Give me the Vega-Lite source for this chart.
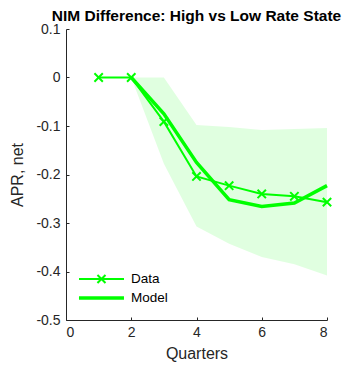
{
  "$schema": "https://vega.github.io/schema/vega-lite/v6.json",
  "width": 261,
  "height": 291,
  "autosize": {"type": "none"},
  "padding": {"left": 66, "top": 29, "right": 25, "bottom": 46},
  "title": {"text": "NIM Difference: High vs Low Rate State", "font": "Liberation Sans", "fontSize": 15.5, "fontWeight": "bold", "color": "#000000", "anchor": "middle", "frame": "group", "offset": 7, "dy": 9},
  "config": {
    "view": {"stroke": null},
    "axis": {
      "grid": false,
      "domainColor": "#262626",
      "tickColor": "#262626",
      "tickSize": -3,
      "labelFont": "Liberation Sans",
      "labelFontSize": 14,
      "labelColor": "#262626",
      "titleFont": "Liberation Sans",
      "titleFontSize": 16,
      "titleFontWeight": "normal",
      "titleColor": "#262626"
    }
  },
  "layer": [
    {
      "data": {"values": [
        {"q": 2, "lo": 0, "hi": 0},
        {"q": 3, "lo": -0.178, "hi": 0},
        {"q": 4, "lo": -0.307, "hi": -0.098},
        {"q": 5, "lo": -0.343, "hi": -0.102},
        {"q": 6, "lo": -0.370, "hi": -0.108},
        {"q": 7, "lo": -0.385, "hi": -0.106},
        {"q": 8, "lo": -0.408, "hi": -0.104}
      ]},
      "mark": {"type": "area", "color": "#00ff00", "opacity": 0.12},
      "encoding": {
        "x": {"field": "q", "type": "quantitative", "scale": {"domain": [0, 8], "nice": false}, "axis": {"values": [0, 2, 4, 6, 8], "title": "Quarters", "labelPadding": 8, "titlePadding": 6}},
        "y": {"field": "lo", "type": "quantitative", "scale": {"domain": [-0.5, 0.1], "nice": false, "zero": false}, "axis": {"values": [0.1, 0, -0.1, -0.2, -0.3, -0.4, -0.5], "title": "APR, net", "labelPadding": 9, "titlePadding": 10, "labelExpr": "replace(format(datum.value, '.1~f'), '\u2212', '-')"}},
        "y2": {"field": "hi"}
      }
    },
    {
      "data": {"values": [
        {"q": 1, "v": 0, "series": "Data"},
        {"q": 2, "v": 0, "series": "Data"},
        {"q": 3, "v": -0.091, "series": "Data"},
        {"q": 4, "v": -0.204, "series": "Data"},
        {"q": 5, "v": -0.223, "series": "Data"},
        {"q": 6, "v": -0.240, "series": "Data"},
        {"q": 7, "v": -0.245, "series": "Data"},
        {"q": 8, "v": -0.257, "series": "Data"},
        {"q": 2, "v": 0, "series": "Model"},
        {"q": 3, "v": -0.075, "series": "Model"},
        {"q": 4, "v": -0.175, "series": "Model"},
        {"q": 5, "v": -0.252, "series": "Model"},
        {"q": 6, "v": -0.266, "series": "Model"},
        {"q": 7, "v": -0.259, "series": "Model"},
        {"q": 8, "v": -0.223, "series": "Model"}
      ]},
      "layer": [
        {
          "mark": {"type": "line"},
          "encoding": {
            "x": {"field": "q", "type": "quantitative"},
            "y": {"field": "v", "type": "quantitative"},
            "color": {"field": "series", "type": "nominal", "scale": {"domain": ["Data", "Model"], "range": ["#00ff00", "#00ff00"]},
              "legend": {
                "title": null, "orient": "bottom-left", "offset": 15,
                "symbolType": "M-1.67,0H5.83", "symbolSize": 144, "symbolStrokeWidth": 2,
                "labelFont": "Liberation Sans", "labelFontSize": 13.5, "labelColor": "#000000", "labelOffset": 34, "rowPadding": 2,
                "encode": {"symbols": {"update": {
                  "shape": {"signal": "datum.value === 'Data' ? 'M-1.67,0H5.83M1.41,-0.67L2.75,0.67M1.41,0.67L2.75,-0.67' : 'M-1.67,0H5.83'"},
                  "strokeWidth": {"signal": "datum.value === 'Data' ? 2 : 3.5"}
                }}}
              }},
            "strokeWidth": {"field": "series", "type": "nominal", "scale": {"domain": ["Data", "Model"], "range": [2, 3.5]}, "legend": null}
          }
        },
        {
          "transform": [{"filter": "datum.series === 'Data'"}],
          "mark": {"type": "point", "shape": "M-1,-1L1,1M-1,1L1,-1", "filled": false, "stroke": "#00ff00", "strokeWidth": 2, "size": 70, "opacity": 1},
          "encoding": {
            "x": {"field": "q", "type": "quantitative"},
            "y": {"field": "v", "type": "quantitative"}
          }
        }
      ]
    }
  ]
}
